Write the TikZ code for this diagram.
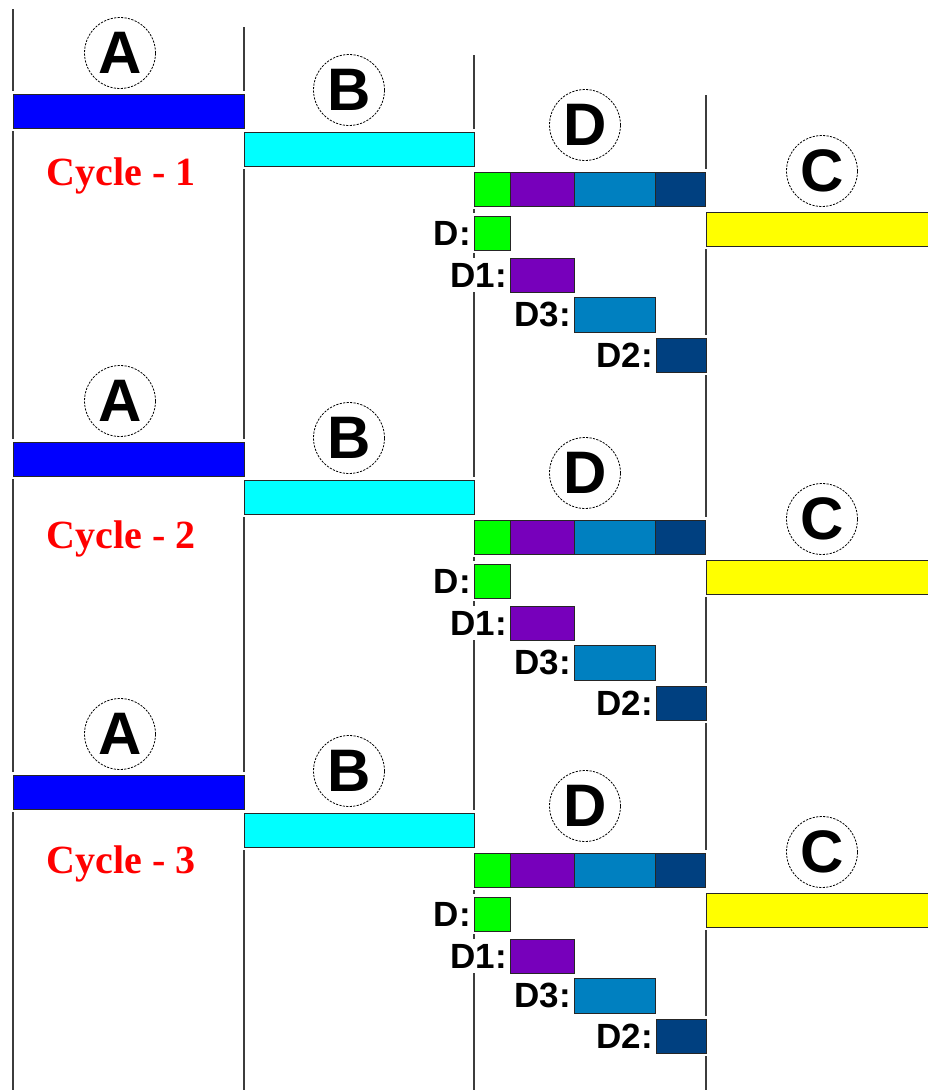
\documentclass[tikz,border=0pt]{standalone}
\usepackage{fontspec}
\setmainfont{Liberation Serif}
\setsansfont{Liberation Sans}
\usetikzlibrary{positioning}

\definecolor{barA}{RGB}{0,0,255}
\definecolor{barB}{RGB}{0,255,255}
\definecolor{barC}{RGB}{255,255,0}
\definecolor{barD}{RGB}{0,255,0}
\definecolor{barDi}{RGB}{119,0,187}
\definecolor{barDiii}{RGB}{0,128,192}
\definecolor{barDii}{RGB}{0,64,128}
\definecolor{rulegray}{RGB}{60,60,60}

\begin{document}
\begin{tikzpicture}[x=1pt,y=-1pt,
  bar/.style={draw=black!85, line width=0.9pt, inner sep=0pt, outer sep=0pt, anchor=north west, minimum height=34pt},
  halo/.style={preaction={draw=white, line width=6pt}},
  stage/.style={circle, draw, dash pattern=on 2.2pt off 1.3pt, line width=0.8pt, minimum size=71pt, inner sep=0pt,
    font=\sffamily\bfseries\fontsize{60}{60}\selectfont},
  dlabel/.style={fill=white, inner sep=0pt, inner xsep=2pt, minimum height=34pt,
    font=\sffamily\bfseries\fontsize{35}{35}\selectfont},
  cyclelabel/.style={text=red, anchor=base, inner sep=0pt, font=\bfseries\fontsize{40}{40}\selectfont}]
  \useasboundingbox[fill=white] (0,0) rectangle (927,1090);
  % time lines
  \draw[rulegray, line width=1.4pt] (13,9) -- (13,1090);
  \draw[rulegray, line width=1.4pt] (244,27) -- (244,1090);
  \draw[rulegray, line width=1.4pt] (474,55) -- (474,1090);
  \draw[rulegray, line width=1.4pt] (706,95) -- (706,1090);
  \foreach \n/\oy/\ty in {1/0/185,2/348/548,3/681/873}{
    % stages
    \node[stage] (cA\n) at (120,53+\oy) {A};
    \node[stage] (cB\n) at (349,90+\oy) {B};
    \node[stage] (cD\n) at (585,125+\oy) {D};
    \node[stage] (cC\n) at (822,171+\oy) {C};
    \node[bar, halo, fill=barA, minimum width=231pt] (barA\n) at (13,94+\oy) {};
    \node[bar, halo, fill=barB, minimum width=230pt] (barB\n) at (244,132+\oy) {};
    \node[bar, halo, fill=barC, minimum width=230pt] (barC\n) at (706,212+\oy) {};
    % D split into its parts
    \node[bar, halo, minimum width=231pt] (stack\n) at (474,172+\oy) {};
    \node[bar, fill=barD, minimum width=36pt] (sD\n) at (stack\n.north west) {};
    \node[bar, fill=barDi, minimum width=64pt] (sDi\n) at (sD\n.north east) {};
    \node[bar, fill=barDiii, minimum width=81pt] (sDiii\n) at (sDi\n.north east) {};
    \node[bar, fill=barDii, minimum width=50pt] (sDii\n) at (sDiii\n.north east) {};
    \node[bar, halo, fill=barD, minimum width=36pt] (bD\n) at (474,216+\oy) {};
    \node[bar, halo, fill=barDi, minimum width=64pt] (bDi\n) at (510,258+\oy) {};
    \node[bar, halo, fill=barDiii, minimum width=81pt, minimum height=35pt] (bDiii\n) at (574,297+\oy) {};
    \node[bar, halo, fill=barDii, minimum width=50pt] (bDii\n) at (656,338+\oy) {};
    \node[dlabel, left=1pt of bD\n] (lD\n) {D:};
    \node[dlabel, left=1pt of bDi\n] (lDi\n) {D1:};
    \node[dlabel, left=1pt of bDiii\n] (lDiii\n) {D3:};
    \node[dlabel, left=1pt of bDii\n] (lDii\n) {D2:};
    \node[cyclelabel] (cyc\n) at (121,\ty) {Cycle - \n};
  }
\end{tikzpicture}
\end{document}
